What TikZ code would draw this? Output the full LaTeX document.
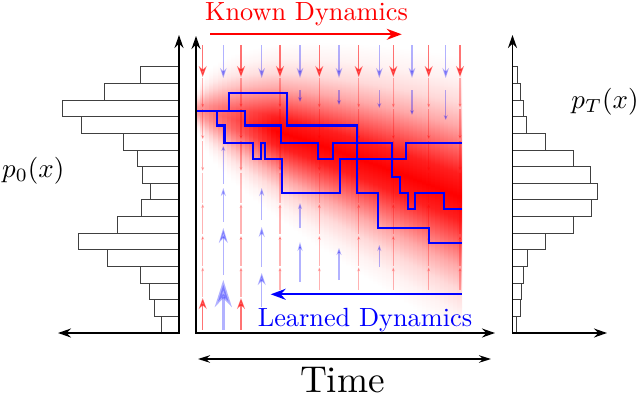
\documentclass[tikz,border=0pt]{standalone}
\usetikzlibrary{arrows.meta}
\begin{document}
\begin{tikzpicture}[x=1pt,y=-1pt,
  hd/.style 2 args={-{Stealth[length=#1pt,width=#2pt]}},
  rq/.style={draw=red, line width=1.2pt},
  bq/.style={draw=blue, line width=1.4pt},
  traj/.style={draw=blue, line width=2.2pt},
  ax/.style={draw=black, line width=1.5pt, {Stealth[length=13pt,width=9pt]}-{Stealth[length=13pt,width=9pt]}},
  hbar/.style={draw=black!75, line width=0.7pt},
  lbl/.style={inner sep=0pt, anchor=base}]
\useasboundingbox (0,0) rectangle (640,397);

% density band
\begin{scope}
\clip (196,38) rectangle (462,333);
\foreach \i in {0,...,59}{
  \pgfmathsetmacro\s{(\i+0.5)/60}
  \pgfmathsetmacro\pk{min(100,40+200*\s)}
  \pgfmathsetmacro\ka{0.05*\pk}
  \pgfmathsetmacro\kb{0.15*\pk}
  \pgfmathsetmacro\kc{0.34*\pk}
  \pgfmathsetmacro\kd{0.61*\pk}
  \pgfmathsetmacro\ke{0.88*\pk}
  \pgfdeclareverticalshading{g\i}{100bp}{color(0bp)=(white); color(25bp)=(white); color(29.17bp)=(red!\ka!white); color(33.33bp)=(red!\kb!white); color(37.5bp)=(red!\kc!white); color(41.67bp)=(red!\kd!white); color(45.83bp)=(red!\ke!white); color(50bp)=(red!\pk!white); color(54.17bp)=(red!\ke!white); color(58.33bp)=(red!\kd!white); color(62.5bp)=(red!\kc!white); color(66.67bp)=(red!\kb!white); color(70.83bp)=(red!\ka!white); color(75bp)=(white); color(100bp)=(white)}
  \pgfmathsetmacro\xa{196+\i*266/60}
  \pgfmathsetmacro\xb{\xa+266/60+0.4}
  \pgfmathsetmacro\m{110+87*\s^1.2}
  \pgfmathsetmacro\sg{3+44*\s^0.45}
  \shade[shading=g\i] (\xa,\m-3*\sg) rectangle (\xb,\m+3*\sg);
}
\end{scope}

% known (red) vector field
\foreach \x in {202.7,241,280,319.3,358.7,393.3,428.7,460}{
  \draw[rq, opacity=.55, hd={11}{8}] (\x,45) -- (\x,77);
  \foreach \c in {92.6,124.2,155.9}{\draw[rq, opacity=.3, hd={4}{3}] (\x,\c-15) -- (\x,\c+15);}
  \draw[rq, opacity=.25] (\x,172.5) -- (\x,202.5);
  \foreach \c in {219.1,250.8}{\draw[rq, opacity=.3, hd={4}{3}] (\x,\c+15) -- (\x,\c-15);}
}
\foreach \x in {202.7,241}{
  \draw[rq, opacity=.3, hd={4}{3}] (\x,297.4) -- (\x,267.4);
  \draw[rq, opacity=.55, hd={11}{8}] (\x,330) -- (\x,298);
}
\foreach \x in {280,319.3,358.7,393.3,428.7,460}{
  \draw[rq, opacity=.3, hd={4}{3}] (\x,290) -- (\x,267.4);
}

% learned (blue) vector field
\foreach \x in {223.3,261.7,300,339,379.3,412,445.7}{
  \draw[bq, opacity=.3, hd={10}{6.5}] (\x,45) -- (\x,78);
}
\foreach \x/\t in {300/102,339/105,379.3/108,412/115,445.7/120}{
  \draw[bq, opacity=.3, hd={5}{4}] (\x,90) -- (\x,\t);
}
\draw[bq, opacity=.3, line width=3pt, hd={27}{17}] (223.3,330) -- (223.3,280);
\draw[bq, opacity=.3, hd={15}{9}] (223.3,275) -- (223.3,228);
\draw[bq, opacity=.3, hd={8}{5}] (223.3,222) -- (223.3,188);
\draw[bq, opacity=.3, hd={5}{4}] (223.3,184) -- (223.3,146);
\draw[bq, opacity=.3, hd={12}{8}] (261.7,307) -- (261.7,273);
\draw[bq, opacity=.3, hd={10}{6}] (261.7,267) -- (261.7,227);
\draw[bq, opacity=.3, hd={8}{5}] (261.7,220) -- (261.7,188);
\draw[bq, opacity=.3, hd={9}{5}] (300,282) -- (300,242);
\draw[bq, opacity=.3, hd={6}{4}] (300,228) -- (300,203);
\draw[bq, opacity=.3, hd={7}{5}] (339,280) -- (339,248);
\draw[bq, opacity=.3, hd={6}{4}] (379.3,267) -- (379.3,245);

% trajectories
\draw[traj] (196,110.7) -- (229.3,110.7) -- (229.3,93) -- (286.7,93) -- (286.7,125.5) -- (356.7,125.5) -- (356.7,193.3) -- (378.3,193.3) -- (378.3,227.7) -- (429.3,227.7) -- (429.3,242.7) -- (461.7,242.7);
\draw[traj] (196,110.7) -- (245.3,110.7) -- (245.3,125.5) -- (281,125.5) -- (281,143) -- (318,143) -- (318,159.3) -- (332.7,159.3) -- (332.7,143) -- (391.7,143) -- (391.7,159.3) -- (406,159.3) -- (406,143) -- (461.7,143);
\draw[traj] (196,110.7) -- (216.7,110.7) -- (216.7,125.5) -- (224.5,125.5) -- (224.5,143) -- (253.3,143) -- (253.3,159.3) -- (261,159.3) -- (261,143) -- (265,143) -- (265,159.3) -- (282.2,159.3) -- (282.2,193.3) -- (340,193.3) -- (340,159.3) -- (391.7,159.3) -- (391.7,176.7) -- (400,176.7) -- (400,193.3) -- (408.3,193.3) -- (408.3,209.3) -- (415,209.3) -- (415,193.3) -- (444.3,193.3) -- (444.3,209.3) -- (461.7,209.3);

% histograms
\foreach \l [count=\k from 0] in {140.7,104,62.3,81,123.3,137,142.7,150.3,141.7,117.3,78.7,107.7,140.7,149,154.3,161.7}{
  \draw[hbar] (\l,{66.6+16.65*\k}) rectangle (179,{66.6+16.65*(\k+1)});
}
\foreach \r [count=\k from 0] in {517.3,520.7,523.3,526,545.7,573.7,590.7,597.3,591.3,573.3,545.7,527.3,523.3,521.7,520,516.7}{
  \draw[hbar] (512.5,{66.6+16.65*\k}) rectangle (\r,{66.6+16.65*(\k+1)});
}

% axes
\draw[ax] (179,35) |- (58,333);
\draw[ax] (196,36) |- (495,333);
\draw[ax] (512.5,35) |- (607,333);
\draw[draw=black, line width=1.5pt, {Stealth[length=12pt,width=7.5pt]}-{Stealth[length=12pt,width=7.5pt]}] (198,359) -- (491,359);

% dynamics arrows
\draw[draw=red, line width=2pt, -{Stealth[length=15pt,width=11pt]}] (210,34.3) -- (401.7,34.3);
\draw[draw=blue, line width=2pt, -{Stealth[length=15pt,width=11pt]}] (461.7,294.3) -- (270.7,294.3);

% labels
\node[lbl, text=red, scale=2.63] (known) at (306.5,20) {Known Dynamics};
\node[lbl, text=blue, scale=2.63] (learned) at (365,326) {Learned Dynamics};
\node[lbl, scale=3.73] (time) at (342.5,392.5) {Time};
\node[lbl, scale=2.7] (p0) at (33.3,177.4) {$p_0(x)$};
\node[lbl, scale=2.7] (pT) at (605,108.3) {$p_T(x)$};
\end{tikzpicture}
\end{document}
